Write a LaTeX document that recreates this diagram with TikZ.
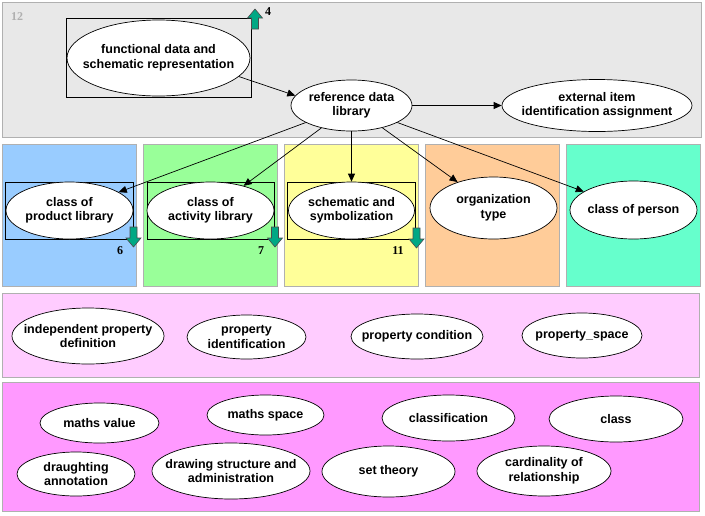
\documentclass[tikz,border=0pt]{standalone}
\usepackage{fontspec}
\setmainfont{Liberation Sans}
\newfontfamily\numfont{Liberation Serif}
\usetikzlibrary{arrows.meta,shapes.geometric}

\definecolor{panelgray}{RGB}{232,232,232}
\definecolor{panelline}{RGB}{176,176,176}
\definecolor{libblue}{RGB}{153,204,255}
\definecolor{libgreen}{RGB}{153,255,153}
\definecolor{libyellow}{RGB}{255,255,153}
\definecolor{liborange}{RGB}{255,204,153}
\definecolor{libteal}{RGB}{102,255,204}
\definecolor{proppink}{RGB}{255,204,255}
\definecolor{mathpink}{RGB}{255,153,255}
\definecolor{markgreen}{RGB}{0,168,132}

\begin{document}
\begin{tikzpicture}[%
      x=1pt, y=-1pt,
      panel/.style={draw=panelline, line width=0.8pt},
      ent/.style={ellipse, draw, fill=white, inner sep=0pt, line width=0.7pt},
      txt/.style={font=\bfseries\fontsize{12.5}{14.5}\selectfont, align=center},
      box/.style={draw, line width=0.8pt, inner sep=0pt},
      link/.style={-{Triangle[length=8pt,width=7pt]}, line width=0.7pt},
      num/.style={font=\numfont\bfseries\fontsize{12}{12}\selectfont},
      tealarrow/.pic={\filldraw[fill=markgreen, draw=black!70, line width=0.6pt]
        (-3.5,0) -- (3.5,0) -- (3.5,11) -- (7.5,11) -- (0,20) -- (-7.5,11) -- (-3.5,11) -- cycle;},
      ]
      \useasboundingbox (0,0) rectangle (705,515);

      % panels
      \filldraw[panel, fill=panelgray] (2,2) rectangle (701,137);
      \filldraw[panel, fill=libblue] (2,144) rectangle (136,286);
      \filldraw[panel, fill=libgreen] (143,144) rectangle (277,286);
      \filldraw[panel, fill=libyellow] (284,144) rectangle (418,286);
      \filldraw[panel, fill=liborange] (425,144) rectangle (559,286);
      \filldraw[panel, fill=libteal] (566,144) rectangle (700,286);
      \filldraw[panel, fill=proppink] (2,293) rectangle (699,377);
      \filldraw[panel, fill=mathpink] (2,382) rectangle (699,511);

      \node[num, text=panelline] (pg) at (17,17) {12};

      % top row
      \node[box, minimum width=185, minimum height=79] (fdsrbox) at (158.5,57.5) {};
      \node[ent, minimum width=183, minimum height=76,
            label={[txt]center:functional data and\\schematic representation}] (fdsr) at (158.5,58) {};
      \node[ent, minimum width=121, minimum height=51,
            label={[txt]center:reference data\\library}] (rdl) at (351.5,105.5) {};
      \node[ent, minimum width=190, minimum height=52,
            label={[txt]center:external item\\identification assignment}] (eiia) at (597,105.5) {};
      \pic[yscale=-1] at (255,29) {tealarrow};
      \node[num] (n4) at (268,12) {4};

      % libraries
      \node[box, minimum width=128, minimum height=57.5] (cplbox) at (69,211) {};
      \node[ent, minimum width=127, minimum height=57,
            label={[txt]center:class of\\product library}] (cpl) at (69.5,210.5) {};
      \node[box, minimum width=127, minimum height=57.5] (calbox) at (210.5,211) {};
      \node[ent, minimum width=127, minimum height=57,
            label={[txt]center:class of\\activity library}] (cal) at (210.5,210.5) {};
      \node[box, minimum width=128, minimum height=57.5] (ssbox) at (351.5,211) {};
      \node[ent, minimum width=126, minimum height=57,
            label={[txt]center:schematic and\\symbolization}] (ss) at (351.5,210.5) {};
      \node[ent, minimum width=127, minimum height=62,
            label={[txt]center:organization\\type}] (ot) at (493.5,208) {};
      \node[ent, minimum width=127, minimum height=58,
            label={[txt]center:class of person}] (cop) at (633.5,210) {};

      \pic at (133.5,227) {tealarrow};
      \pic at (275,227) {tealarrow};
      \pic at (416.5,228) {tealarrow};
      \node[num] (n6) at (120,251) {6};
      \node[num] (n7) at (261,251) {7};
      \node[num] (n11) at (398,251) {11};

      \draw[link] (fdsr.-13) -- (rdl.170);
      \draw[link] (rdl) -- (eiia);
      \draw[link] (rdl) -- (cpl);
      \draw[link] (rdl) -- (cal);
      \draw[link] (rdl) -- (ss);
      \draw[link] (rdl) -- (ot);
      \draw[link] (rdl) -- (cop);

      % properties
      \node[ent, minimum width=152, minimum height=56,
            label={[txt]center:independent property\\definition}] (ipd) at (88,336) {};
      \node[ent, minimum width=119, minimum height=44,
            label={[txt]center:property\\identification}] (pid) at (246.5,337) {};
      \node[ent, minimum width=132, minimum height=45,
            label={[txt]center:property condition}] (pcond) at (417,336.5) {};
      \node[ent, minimum width=120, minimum height=45,
            label={[txt]center:property\_space}] (pspace) at (582,335.5) {};

      % maths and classes
      \node[ent, minimum width=119, minimum height=40,
            label={[txt]center:maths value}] (mval) at (99.5,423) {};
      \node[ent, minimum width=117, minimum height=40,
            label={[txt]center:maths space}] (mspace) at (265.5,415) {};
      \node[ent, minimum width=133, minimum height=46,
            label={[txt]center:classification}] (clf) at (448.5,418) {};
      \node[ent, minimum width=134, minimum height=46,
            label={[txt]center:class}] (cls) at (616,419) {};
      \node[ent, minimum width=118, minimum height=44,
            label={[txt]center:draughting\\annotation}] (dra) at (76,474) {};
      \node[ent, minimum width=158, minimum height=56,
            label={[txt]center:drawing structure and\\administration}] (dsa) at (231,471) {};
      \node[ent, minimum width=133, minimum height=51,
            label={[txt]center:set theory}] (st) at (388.5,471.5) {};
      \node[ent, minimum width=134, minimum height=50,
            label={[txt]center:cardinality of\\relationship}] (cor) at (544,471) {};
\end{tikzpicture}
\end{document}
